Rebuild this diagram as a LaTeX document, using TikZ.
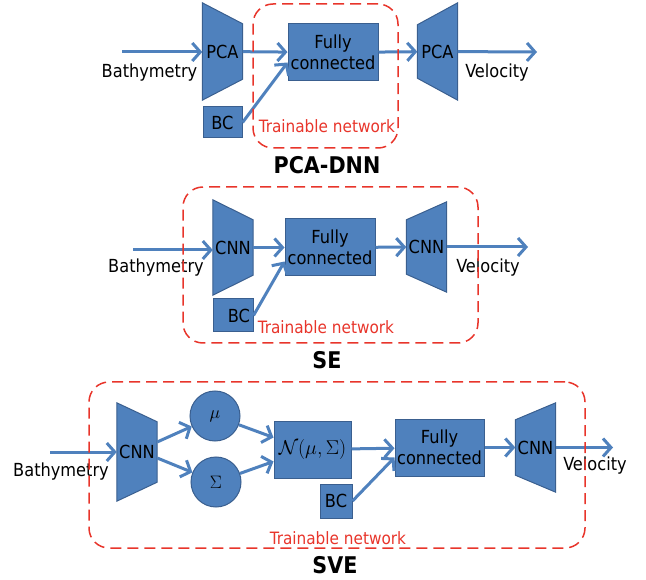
\RequirePackage{fix-cm}
\documentclass[tikz,border=0pt]{standalone}
\usepackage{fontspec}
\setmainfont{DejaVu Sans Condensed}
\usetikzlibrary{positioning, arrows.meta, calc, fit, backgrounds}
\definecolor{blockBlue}{HTML}{4F81BD}
\definecolor{blockEdge}{HTML}{3A5F8F}
\definecolor{trainRed}{HTML}{E8352B}
\tikzstyle{block} =[fill=blockBlue, draw=blockEdge, line width=1pt, align=center, inner sep=0pt, font=\fontsize{18}{21}\selectfont]
\tikzstyle{coder} =[minimum width=40pt, inner sep=0pt, font=\fontsize{18}{21}\selectfont]
\tikzstyle{disc} =[circle, fill=blockBlue, draw=blockEdge, line width=1pt, minimum size=50pt, inner sep=0pt, font=\fontsize{18}{20}\selectfont]
\tikzstyle{flow} =[-{Straight Barb[length=8pt,width=18pt]}, line width=3pt, draw=blockBlue]
\tikzstyle{trainbox} =[draw=trainRed, dash pattern=on 11pt off 6pt, line width=1.5pt, rounded corners=20pt]
\tikzstyle{traintext} =[text=trainRed, font=\fontsize{17}{19}\selectfont]
\tikzstyle{plain} =[font=\fontsize{18}{21}\selectfont]
\tikzstyle{title} =[font=\bfseries\fontsize{23}{26}\selectfont]

% trapezoid behind a coder node: node, left inset, right inset
\newcommand{\trapfill}[3]{%
  \begin{scope}[on background layer]
    \filldraw[block] ($(#1.north west)+(0,-#2)$) -- ($(#1.north east)+(0,-#3)$)
      -- ($(#1.south east)+(0,#3)$) -- ($(#1.south west)+(0,#2)$) -- cycle;
  \end{scope}}

\begin{document}
\begin{tikzpicture}[x=1pt, y=1pt]
\useasboundingbox (0,0) rectangle (646,-580);

% PCA-DNN
\node (pcaIn) [coder, minimum height=97pt] at (222.5,-51.5) {PCA};
\trapfill{pcaIn}{0}{21}
\node (bcA) [block, minimum width=39pt, minimum height=31pt] at (222.5,-122.5) {BC};
\node (fcA) [block, minimum width=90pt, minimum height=57pt] at (333,-52.5) {Fully\\connected};
\node (pcaOut) [coder, minimum height=97pt] at (437.5,-51.5) {PCA};
\trapfill{pcaOut}{22}{0}
\coordinate (inA) at (122,-52);
\coordinate (outA) at (537,-52);
\node (bathyA) [plain] at (149.5,-73) {Bathymetry};
\node (veloA) [plain] at (497,-73) {Velocity};

\draw[flow] (inA) -- (inA -| pcaIn.west);
\draw[flow] (pcaIn) -- (fcA);
\draw[flow] (bcA.east) -- ([yshift=-10pt]fcA.west);
\draw[flow] (fcA) -- (pcaOut);
\draw[flow] (pcaOut) -- (outA);

\node (trainA) [trainbox, minimum width=145pt, minimum height=144pt] at (325.5,-76) {};
\node (trainAText) [traintext] at (327,-126) {Trainable network};
\node (titleA) [title] at (327,-165) {PCA-DNN};

% SE
\node (cnnInB) [coder, minimum height=95pt] at (233,-247.5) {CNN};
\trapfill{cnnInB}{0}{20}
\node (bcB) [block, minimum width=40pt, minimum height=33pt, text width=34pt, align=right] at (233,-315.5) {BC};
\node (fcB) [block, minimum width=90pt, minimum height=57pt] at (330,-247.5) {Fully\\connected};
\node (cnnOutB) [coder, minimum height=90pt] at (426.5,-247) {CNN};
\trapfill{cnnOutB}{18}{0}
\coordinate (inB) at (133,-250);
\coordinate (outB) at (528,-247);
\node (bathyB) [plain] at (156,-268) {Bathymetry};
\node (veloB) [plain] at (488,-268) {Velocity};

\draw[flow] (inB) -- (inB -| cnnInB.west);
\draw[flow] (cnnInB) -- (fcB);
\draw[flow] (bcB.east) -- ([yshift=-14pt]fcB.west);
\draw[flow] (fcB) -- (cnnOutB);
\draw[flow] (cnnOutB) -- (outB);

\node (trainB) [trainbox, minimum width=295pt, minimum height=156pt] at (330.5,-265) {};
\node (trainBText) [traintext] at (326,-327) {Trainable network};
\node (titleB) [title] at (327,-360) {SE};

% SVE
\coordinate (inC) at (50,-452);
\node (cnnInC) [coder, minimum height=98pt] at (137,-452) {CNN};
\trapfill{cnnInC}{0}{19}
\node (mu) [disc] at (215,-416) {$\mu$};
\node (sigma) [disc] at (216,-482) {$\Sigma$};
\node (normal) [block, minimum width=77pt, minimum height=57pt, font=\fontsize{20}{23}\selectfont] at (312.5,-449.5) {$\mathcal{N}\Big(\mu,\Sigma\Big)$};
\node (bcC) [block, minimum width=32pt, minimum height=34pt] at (336,-501) {BC};
\node (fcC) [block, minimum width=89pt, minimum height=57pt] at (439.5,-447.5) {Fully\\connected};
\node (cnnOutC) [coder, minimum height=89pt] at (535.5,-447.5) {CNN};
\trapfill{cnnOutC}{17}{0}
\coordinate (outC) at (613,-447.5);
\node (bathyC) [plain] at (61,-472) {Bathymetry};
\node (veloC) [plain] at (595,-466) {Velocity};

\draw[flow] (inC) -- (inC -| cnnInC.west);
\draw[flow] ([yshift=10pt]cnnInC.east) -- (mu);
\draw[flow] ([yshift=-6pt]cnnInC.east) -- (sigma);
\draw[flow] (mu) -- ([yshift=12pt]normal.west);
\draw[flow] (sigma) -- ([yshift=-12pt]normal.west);
\draw[flow] (normal) -- (fcC);
\draw[flow] (bcC.east) -- ([yshift=-10pt]fcC.west);
\draw[flow] (fcC) -- (cnnOutC);
\draw[flow] (cnnOutC) -- (outC);

\node (trainC) [trainbox, minimum width=496pt, minimum height=166pt] at (337,-465) {};
\node (trainCText) [traintext] at (338,-538) {Trainable network};
\node (titleC) [title] at (335,-565) {SVE};
\end{tikzpicture}
\end{document}
